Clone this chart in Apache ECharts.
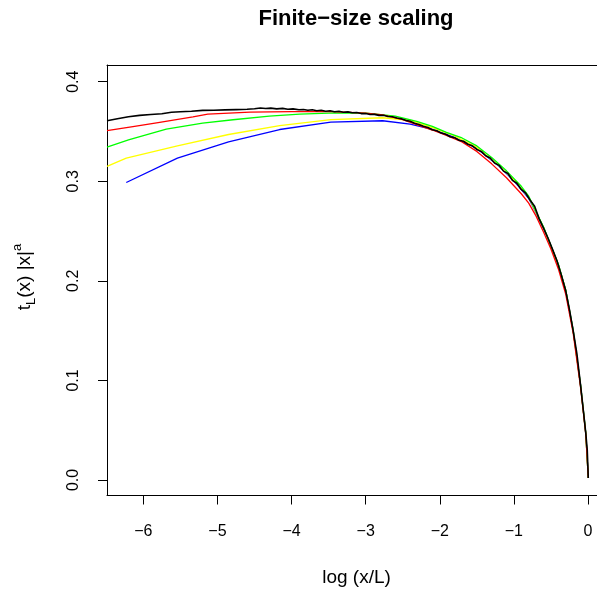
<!DOCTYPE html>
<html>
<head>
<meta charset="utf-8">
<script src="https://cdn.jsdelivr.net/npm/echarts@6/dist/echarts.min.js"></script>
<style>html,body{margin:0;padding:0;background:#fff;}#c{width:597px;height:591px;}</style>
</head>
<body>
<div id="c"></div>
<script>
var xTicks = [-6, -5, -4, -3, -2, -1, 0];
var yTicks = [0, 0.1, 0.2, 0.3, 0.4];

var blueX = [-6.23,-5.54,-4.85,-4.16,-3.47,-2.77,-2.4,-2.1,-1.8,-1.5,-1.2,-1.0,-0.8,-0.6,-0.4,-0.3,-0.2,-0.1,-0.03,0.004];
var blueY = [0.2988,0.3233,0.3395,0.3520,0.3595,0.3608,0.3575,0.3522,0.3440,0.3330,0.3150,0.3005,0.2830,0.2535,0.2165,0.1905,0.1502,0.0952,0.0471,0.0020];

var yellowX = [-6.49,-6.23,-5.54,-4.85,-4.16,-3.47,-2.77,-2.4,-2.1,-1.8,-1.5,-1.2,-1.0,-0.8,-0.6,-0.4,-0.3,-0.2,-0.1,-0.03,0.004];
var yellowY = [0.3149,0.3233,0.3355,0.3470,0.3560,0.3620,0.3638,0.3612,0.3538,0.3455,0.3340,0.3155,0.3015,0.2840,0.2535,0.2165,0.1905,0.1500,0.0950,0.0470,0.0020];

var greenX = [-6.49,-6.2,-5.69,-5.2,-4.79,-4.3,-3.89,-3.4,-2.99,-2.6,-2.31,-2.1,-1.91,-1.7,-1.5,-1.3,-1.1,-0.9,-0.8,-0.6,-0.4,-0.3,-0.2,-0.1,-0.03,0.004];
var greenY = [0.3344,0.3415,0.3525,0.3585,0.3618,0.3655,0.3675,0.3688,0.3685,0.3655,0.3602,0.3552,0.3492,0.3435,0.3355,0.3238,0.3105,0.2950,0.2850,0.2540,0.2165,0.1905,0.1500,0.0950,0.0470,0.0020];

var redX = [-6.49,-6.14,-5.8,-5.33,-5.13,-4.56,-4.0,-3.44,-3.0,-2.77,-2.5,-2.31,-2.1,-1.91,-1.7,-1.5,-1.3,-1.1,-0.9,-0.8,-0.7,-0.6,-0.5,-0.4,-0.3,-0.2,-0.1,-0.03,0.004];
var redY = [0.3508,0.3550,0.3590,0.3646,0.3675,0.3695,0.3700,0.3700,0.3685,0.3668,0.3620,0.3570,0.3515,0.3460,0.3395,0.3300,0.3175,0.3035,0.2875,0.2780,0.2650,0.2490,0.2320,0.2120,0.1865,0.1475,0.0930,0.0462,0.0020];

var blackX = [-6.49,-6.35,-6.2,-6.05,-5.9,-5.75,-5.62,-5.5,-5.35,-5.2,-5.05,-4.9,-4.75,-4.6,-4.5,-4.42,-4.35,-4.28,-4.2,-4.12,-4.05,-3.98,-3.9,-3.84,-3.78,-3.72,-3.66,-3.6,-3.54,-3.48,-3.42,-3.36,-3.3,-3.24,-3.18,-3.12,-3.06,-3.0,-2.94,-2.88,-2.82,-2.76,-2.7,-2.64,-2.58,-2.52,-2.46,-2.4,-2.34,-2.28,-2.22,-2.16,-2.1,-2.04,-1.98,-1.92,-1.86,-1.8,-1.74,-1.68,-1.62,-1.56,-1.5,-1.44,-1.38,-1.32,-1.26,-1.2,-1.14,-1.08,-1.02,-0.96,-0.9,-0.84,-0.78,-0.72,-0.66,-0.6,-0.54,-0.48,-0.42,-0.36,-0.3,-0.25,-0.2,-0.15,-0.1,-0.06,-0.03,-0.01,0.004];
var blackY = [0.3608,0.3628,0.3648,0.3662,0.3671,0.3678,0.3693,0.3699,0.3704,0.3712,0.3714,0.3717,0.3720,0.3723,0.3728,0.3736,0.3731,0.3735,0.3727,0.3732,0.3724,0.3727,0.3718,0.3721,0.3713,0.3718,0.3709,0.3714,0.3704,0.3708,0.3699,0.3703,0.3694,0.3697,0.3688,0.3690,0.3680,0.3681,0.3671,0.3672,0.3662,0.3663,0.3651,0.3648,0.3636,0.3628,0.3612,0.3603,0.3582,0.3570,0.3552,0.3541,0.3518,0.3508,0.3484,0.3472,0.3448,0.3438,0.3412,0.3402,0.3372,0.3356,0.3320,0.3300,0.3256,0.3234,0.3183,0.3160,0.3102,0.3078,0.3010,0.2980,0.2918,0.2880,0.2810,0.2750,0.2625,0.2530,0.2430,0.2320,0.2205,0.2060,0.1900,0.1710,0.1500,0.1270,0.0950,0.0680,0.0470,0.0300,0.0020];

function zip(xs, ys) { return xs.map(function (x, i) { return [x, ys[i]]; }); }
function mk(name, xs, ys, color, w) {
  return { name: name, type: 'line', data: zip(xs, ys), showSymbol: false, symbol: 'none',
    lineStyle: { color: color, width: w }, itemStyle: { color: color }, clip: true, animation: false, z: 2 };
}
var FONT = '"Liberation Sans", Arial, Helvetica, sans-serif';
function fmtX(v) { return v < 0 ? '\u2212' + Math.abs(v) : String(v); }
var XMIN = -6.49, XMAX = 0.1215;

var chart = echarts.init(document.getElementById('c'), null, { renderer: 'canvas' });
chart.setOption({
  animation: false,
  backgroundColor: '#fff',
  grid: { left: 107, top: 65, right: 0, height: 430.5, show: false, containLabel: false },
  xAxis: [{
    type: 'value', min: XMIN, max: XMAX, position: 'bottom',
    axisLine: { show: true, onZero: false, lineStyle: { color: '#000', width: 1 } },
    splitLine: { show: false },
    axisTick: { show: true, inside: false, length: 9, customValues: xTicks, lineStyle: { color: '#000', width: 1 } },
    axisLabel: { show: true, customValues: xTicks, formatter: fmtX, margin: 28, color: '#000', fontSize: 16, fontFamily: FONT }
  }, {
    type: 'value', min: XMIN, max: XMAX, position: 'top',
    axisLine: { show: true, onZero: false, lineStyle: { color: '#000', width: 1 } },
    splitLine: { show: false }, axisTick: { show: false }, axisLabel: { show: false }
  }],
  yAxis: {
    type: 'value', min: -0.0156, max: 0.4168,
    axisLine: { show: true, onZero: false, lineStyle: { color: '#000', width: 1 } },
    splitLine: { show: false },
    axisTick: { show: true, inside: false, length: 9, customValues: yTicks, lineStyle: { color: '#000', width: 1 } },
    axisLabel: { show: true, customValues: yTicks, rotate: 90, formatter: function (v) { return v.toFixed(1); }, margin: 25, color: '#000', fontSize: 16, fontFamily: FONT }
  },
  series: [
    mk('blue', blueX, blueY, '#0000FF', 1.3),
    mk('yellow', yellowX, yellowY, '#FFFF00', 1.3),
    mk('green', greenX, greenY, '#00FF00', 1.3),
    mk('red', redX, redY, '#FF0000', 1.3),
    mk('black', blackX, blackY, '#000000', 1.6)
  ],
  graphic: [
    { type: 'text', x: 356, y: 19, style: { text: 'Finite\u2212size scaling', fill: '#000', font: 'bold 22px ' + FONT, textAlign: 'center', textVerticalAlign: 'middle' } },
    { type: 'text', x: 356.5, y: 578, style: { text: 'log (x/L)', fill: '#000', font: '19px ' + FONT, textAlign: 'center', textVerticalAlign: 'middle' } },
    { type: 'text', x: 25, y: 277, rotation: Math.PI / 2,
      style: {
        text: '{n|t}{s|L}{n|(x) |x|}{p|a}',
        textAlign: 'center', textVerticalAlign: 'middle', fill: '#000',
        rich: {
          n: { fontSize: 19, fontFamily: FONT, lineHeight: 30, verticalAlign: 'middle', fill: '#000' },
          s: { fontSize: 13, fontFamily: FONT, lineHeight: 30, verticalAlign: 'bottom', padding: [0, 0, 2, 0], fill: '#000' },
          p: { fontSize: 13, fontFamily: FONT, lineHeight: 30, verticalAlign: 'top', padding: [1, 0, 0, 0], fill: '#000' }
        }
      } }
  ]
});
</script>
</body>
</html>
